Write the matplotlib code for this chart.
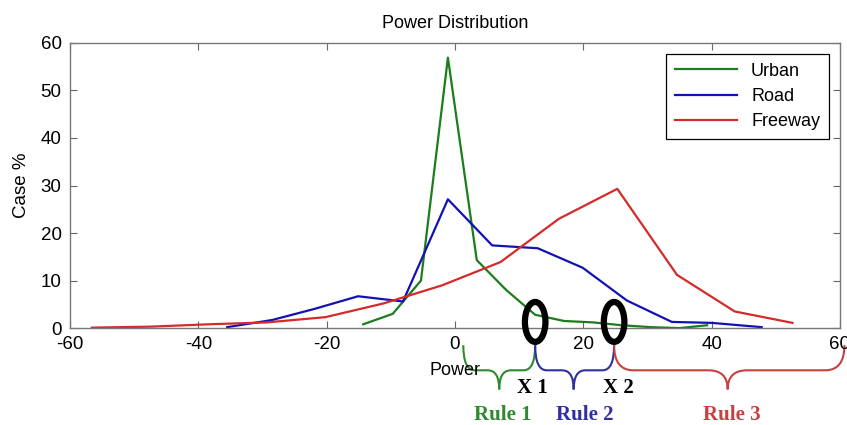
import numpy as np
import matplotlib
matplotlib.use("Agg")
import matplotlib.pyplot as plt
from matplotlib.path import Path
from matplotlib.patches import PathPatch, Ellipse

plt.rcParams['font.family'] = ['Liberation Sans', 'DejaVu Sans']
plt.rcParams['axes.unicode_minus'] = False

# values
urban_x = [-14.3, -9.7, -5.3, -1.1, 3.4, 8.0, 12.5, 17.0, 21.5, 26.0, 30.5, 35.0, 39.3]
urban_y = [0.8, 3.0, 10.0, 56.9, 14.3, 8.0, 2.8, 1.5, 1.2, 0.6, 0.2, 0.0, 0.6]

road_x = [-35.5, -28.5, -22.0, -15.1, -8.1, -1.1, 5.8, 12.9, 19.9, 26.8, 33.8, 40.0, 47.8]
road_y = [0.2, 1.7, 4.0, 6.7, 5.6, 27.1, 17.4, 16.8, 12.7, 5.8, 1.3, 1.1, 0.2]

freeway_x = [-56.6, -47.5, -38.4, -29.3, -20.2, -11.1, -2.0, 7.1, 16.2, 25.3, 34.6, 43.6, 52.6]
freeway_y = [0.1, 0.3, 0.8, 1.2, 2.3, 5.2, 9.0, 13.9, 23.0, 29.3, 11.2, 3.5, 1.1]

x1, x2 = 12.5, 24.8
rules = ['Rule 1', 'Rule 2', 'Rule 3']
rule_spans = [(1.3, x1), (x1, x2), (x2, 60.7)]
rule_tips = [6.9, 18.5, 42.5]
rule_cols = ['#2f8a2f', '#2f2fa0', '#c84040']

fig = plt.figure(figsize=(8.47, 4.25), dpi=100)
ax = fig.add_axes([0.0826, 0.228, 0.9091, 0.671])

ax.plot(urban_x, urban_y, color='#1b7d1b', lw=1.6, label='Urban')
ax.plot(road_x, road_y, color='#1212b4', lw=1.6, label='Road')
ax.plot(freeway_x, freeway_y, color='#d42a2a', lw=1.6, label='Freeway')

ax.set_xlim(-60, 60)
ax.set_ylim(0, 60)
ax.set_xticks(range(-60, 61, 20))
ax.set_yticks(range(0, 61, 10))
ax.tick_params(direction='in', top=True, right=True, length=5, width=0.8,
               color='#666666', labelsize=13.5, pad=6)
for s in ax.spines.values():
    s.set_color('#777777')
    s.set_linewidth(1.0)

ax.set_title('Power Distribution', fontsize=13, pad=11)
ax.set_ylabel('Case %', fontsize=13.5, labelpad=8)
ax.set_xlabel('Power', fontsize=13)
ax.xaxis.set_label_coords(0.5, -0.118)
ax.xaxis.label.set_zorder(1)

leg = ax.legend(loc='upper right', fontsize=13, handlelength=3.4, labelspacing=0.45,
                fancybox=False, edgecolor='black', framealpha=1,
                borderaxespad=0.6, borderpad=0.5)
leg.get_frame().set_linewidth(0.9)

# black "O" marks at the two split points
for xc in [x1, x2]:
    ax.add_patch(Ellipse((xc, 1.3), 3.2, 8.4, fill=False, ec='black', lw=4.5,
                         clip_on=False, zorder=5))

# braces under the axis (x in data units, y in axes fraction)
tr = ax.get_xaxis_transform()


def brace(xa, xb, xm, col, r):
    ytop, ymid, ytip = -0.06, -0.148, -0.215
    verts = [(xa, ytop), (xa, ymid), (xa + r, ymid),
             (xm - r, ymid), (xm, ymid), (xm, ytip),
             (xm, ymid), (xm + r, ymid),
             (xb - r, ymid), (xb, ymid), (xb, ytop)]
    codes = [Path.MOVETO, Path.CURVE3, Path.CURVE3,
             Path.LINETO, Path.CURVE3, Path.CURVE3,
             Path.CURVE3, Path.CURVE3,
             Path.LINETO, Path.CURVE3, Path.CURVE3]
    ax.add_patch(PathPatch(Path(verts, codes), transform=tr, fill=False,
                           ec=col, lw=1.5, clip_on=False))


for (xa, xb), xm, col in zip(rule_spans, rule_tips, rule_cols):
    brace(xa, xb, xm, col, 1.8 if xb - xa < 20 else 3.0)

for name, xm, col in zip(rules, [7.5, 20.2, 43.1], rule_cols):
    ax.text(xm, -0.305, name, transform=tr, ha='center', va='center', color=col,
            fontsize=15, fontweight='bold', family='Liberation Serif')

ax.text(12.0, -0.21, 'X 1', transform=tr, ha='center', va='center',
        fontsize=15, fontweight='bold', family='Liberation Serif')
ax.text(25.4, -0.21, 'X 2', transform=tr, ha='center', va='center',
        fontsize=15, fontweight='bold', family='Liberation Serif')

fig.savefig('out.png', dpi=100)
